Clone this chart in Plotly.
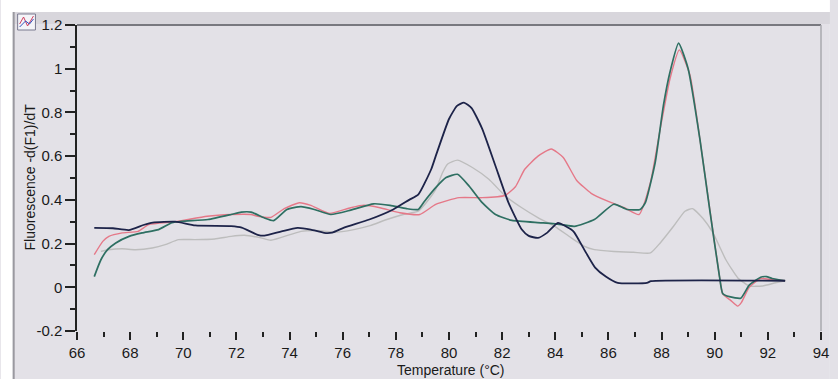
import plotly.graph_objects as go

# Melt curve derivative data, -d(F1)/dT versus temperature (°C)
navy_t = [66.65, 67.35, 67.95, 68.5, 68.85, 69.7, 70.45, 71.8, 72.2, 72.8, 73.05, 73.7, 74.3,
          74.8, 75.3, 75.6, 76.05, 77.0, 77.9, 78.5, 78.85, 79.33, 79.5, 80.0, 80.3, 80.56,
          80.85, 81.25, 81.75, 82.23, 82.74, 83.0, 83.35, 83.7, 84.1, 84.6, 84.72, 85.1,
          85.5, 85.9, 86.35, 87.45, 87.6, 92.65]
navy_v = [0.272, 0.270, 0.262, 0.285, 0.296, 0.300, 0.283, 0.280, 0.273, 0.240, 0.236, 0.256, 0.272,
          0.264, 0.249, 0.250, 0.273, 0.310, 0.356, 0.400, 0.425, 0.540, 0.600, 0.770, 0.830, 0.845,
          0.820, 0.725, 0.555, 0.390, 0.264, 0.235, 0.226, 0.250, 0.295, 0.264, 0.250, 0.170,
          0.090, 0.049, 0.020, 0.020, 0.028, 0.030]

pink_t = [66.65, 66.97, 67.2, 67.7, 68.3, 68.7, 69.7, 70.9, 71.8, 72.55, 72.8, 73.3, 73.8, 74.37,
          74.8, 75.5, 76.3, 76.8, 77.4, 78.15, 78.9, 79.5, 80.38, 81.25, 82.1, 82.5, 82.85, 83.35,
          83.85, 84.3, 84.8, 85.35, 85.95, 86.6, 87.15, 87.58, 87.95, 88.32, 88.67, 89.07, 89.44,
          89.8, 90.18, 90.3, 90.6, 90.86, 91.0, 91.3, 91.73, 92.16, 92.65]
pink_v = [0.149, 0.210, 0.233, 0.249, 0.256, 0.287, 0.300, 0.325, 0.333, 0.333, 0.325, 0.320, 0.360,
          0.387, 0.375, 0.338, 0.364, 0.375, 0.364, 0.341, 0.333, 0.379, 0.410, 0.410, 0.420, 0.460,
          0.540, 0.600, 0.633, 0.594, 0.490, 0.430, 0.395, 0.364, 0.333, 0.480, 0.725, 0.955, 1.086,
          0.970, 0.680, 0.370, 0.049, -0.030, -0.060, -0.086, -0.070, 0.000, 0.040, 0.035, 0.030]

teal_t = [66.65, 66.9, 67.15, 67.46, 67.96, 68.45, 69.07, 69.57, 69.94, 70.93, 71.8, 72.18, 72.55,
          73.04, 73.4, 73.9, 74.43, 74.93, 75.55, 76.3, 77.16, 77.78, 78.4, 78.84, 79.08, 79.5,
          79.89, 80.32, 80.75, 81.25, 81.75, 82.37, 83.49, 84.23, 84.72, 85.47, 86.2, 86.7, 87.2,
          87.39, 87.76, 88.07, 88.32, 88.64, 89.0, 89.44, 89.81, 90.18, 90.3, 90.55, 90.98, 91.3,
          91.73, 91.95, 92.16, 92.65]
teal_v = [0.049, 0.126, 0.172, 0.203, 0.233, 0.249, 0.264, 0.295, 0.302, 0.310, 0.333, 0.344, 0.344,
          0.318, 0.305, 0.356, 0.369, 0.356, 0.333, 0.353, 0.382, 0.375, 0.360, 0.356, 0.394, 0.456,
          0.502, 0.517, 0.464, 0.387, 0.333, 0.306, 0.295, 0.287, 0.279, 0.310, 0.380, 0.356, 0.356,
          0.387, 0.571, 0.832, 0.986, 1.117, 1.000, 0.680, 0.356, 0.049, -0.028, -0.043, -0.050, 0.010,
          0.046, 0.049, 0.040, 0.030]

gray_t = [66.9, 67.2, 67.7, 68.2, 68.83, 69.32, 69.82, 70.44, 71.18, 71.8, 72.3, 72.92, 73.3, 74.43,
          75.17, 75.67, 76.42, 77.03, 77.66, 78.28, 78.84, 79.14, 79.5, 79.76, 79.95, 80.32, 80.88,
          81.5, 82.1, 82.74, 83.36, 83.98, 84.6, 85.1, 85.47, 86.2, 86.94, 87.58, 87.95, 88.45,
          88.88, 89.16, 89.56, 89.93, 90.42, 90.87, 91.3, 91.8, 92.29, 92.65]
gray_v = [0.164, 0.172, 0.176, 0.172, 0.180, 0.195, 0.218, 0.218, 0.221, 0.233, 0.238, 0.226, 0.215,
          0.256, 0.259, 0.252, 0.264, 0.282, 0.310, 0.333, 0.348, 0.387, 0.448, 0.525, 0.564, 0.582,
          0.548, 0.494, 0.420, 0.364, 0.318, 0.279, 0.226, 0.187, 0.172, 0.164, 0.160, 0.157, 0.203,
          0.279, 0.348, 0.360, 0.315, 0.250, 0.126, 0.043, 0.006, 0.006, 0.021, 0.030]

x_ticks = [66, 68, 70, 72, 74, 76, 78, 80, 82, 84, 86, 88, 90, 92, 94]
y_ticks = [-0.2, 0, 0.2, 0.4, 0.6, 0.8, 1, 1.2]

W, H = 838, 379
ML, MR, MT, MB = 77, 9, 25, 48
PW, PH = W - ML - MR, H - MT - MB


def px(x):
    return (x - ML) / PW


def py(y):
    return (H - MB - y) / PH


BG = "#e3e1e7"
FONT = "Liberation Sans, Arial, sans-serif"

fig = go.Figure()
series = [
    (gray_t, gray_v, "#bdbdbd", 1.4),
    (pink_t, pink_v, "#e57888", 1.4),
    (teal_t, teal_v, "#2e6f62", 1.7),
    (navy_t, navy_v, "#1d2349", 1.8),
]
for t, v, c, w in series:
    fig.add_trace(go.Scatter(x=t, y=v, mode="lines",
                             line=dict(color=c, width=w, shape="spline", smoothing=0.5),
                             showlegend=False, hoverinfo="skip"))

shapes = [
    # window background and border strips
    dict(type="rect", xref="paper", yref="paper", x0=px(0), x1=px(W), y0=py(H), y1=py(0),
         fillcolor="white", line_width=0, layer="below"),
    dict(type="rect", xref="paper", yref="paper", x0=px(12), x1=px(W), y0=py(H), y1=py(12),
         fillcolor=BG, line_width=0, layer="below"),
    dict(type="rect", xref="paper", yref="paper", x0=px(14), x1=px(W), y0=py(24), y1=py(12),
         fillcolor="#d8d6dc", line_width=0, layer="below"),
    dict(type="line", xref="paper", yref="paper", x0=px(13), x1=px(13), y0=py(H), y1=py(12),
         line=dict(color="#9a99a0", width=2), layer="below"),
    # plot frame: dark top edge, light right edge
    dict(type="line", xref="paper", yref="paper", x0=0, x1=1, y0=1, y1=1,
         line=dict(color="#55555c", width=1.5)),
    dict(type="line", xref="paper", yref="paper", x0=1, x1=1, y0=0, y1=1,
         line=dict(color="#a8a8ae", width=1.5)),
    # small chart icon in the corner
    dict(type="rect", xref="paper", yref="paper", x0=px(17), x1=px(35), y0=py(30), y1=py(14),
         fillcolor="#f4f4f8", line=dict(color="#7a7a90", width=1)),
    dict(type="path", xref="paper", yref="paper",
         path=f"M {px(19)},{py(24)} L {px(23)},{py(17)} L {px(27)},{py(26)} L {px(33)},{py(16)}",
         line=dict(color="#d04060", width=1)),
    dict(type="path", xref="paper", yref="paper",
         path=f"M {px(19)},{py(27)} L {px(25)},{py(21)} L {px(29)},{py(24)} L {px(33)},{py(19)}",
         line=dict(color="#3050c0", width=1)),
]

annotations = [
    dict(text="Temperature (°C)", xref="paper", yref="paper", x=px(455), y=py(370),
         showarrow=False, font=dict(family=FONT, size=14, color="#1a1a1a"),
         xanchor="center", yanchor="middle"),
    dict(text="Fluorescence -d(F1)/dT", xref="paper", yref="paper", x=px(29), y=py(177),
         showarrow=False, textangle=-90, font=dict(family=FONT, size=14, color="#1a1a1a"),
         xanchor="center", yanchor="middle"),
]

fig.update_layout(
    width=W, height=H,
    margin=dict(l=ML, r=MR, t=MT, b=MB, pad=0),
    paper_bgcolor=BG, plot_bgcolor="white",
    shapes=shapes, annotations=annotations,
    font=dict(family=FONT, size=15, color="#1a1a1a"),
    xaxis=dict(range=[66, 94], tickvals=x_ticks, ticktext=[str(v) for v in x_ticks],
               ticks="outside", ticklen=8, tickwidth=1.5, tickcolor="#222",
               minor=dict(dtick=1, tick0=66, ticks="outside", ticklen=5, tickwidth=1.5,
                          tickcolor="#222", showgrid=False),
               showgrid=False, zeroline=False, showline=False, fixedrange=True),
    yaxis=dict(range=[-0.2, 1.2], tickvals=y_ticks,
               ticktext=["-0.2", "0", "0.2", "0.4", "0.6", "0.8", "1", "1.2"],
               ticks="outside", ticklen=10, tickwidth=1.5, tickcolor="#222",
               minor=dict(dtick=0.1, tick0=0, ticks="outside", ticklen=5, tickwidth=1.5,
                          tickcolor="#222", showgrid=False),
               showgrid=False, zeroline=False, showline=True, linecolor="#222", linewidth=1.5,
               fixedrange=True),
)

fig.write_html("out.html")
